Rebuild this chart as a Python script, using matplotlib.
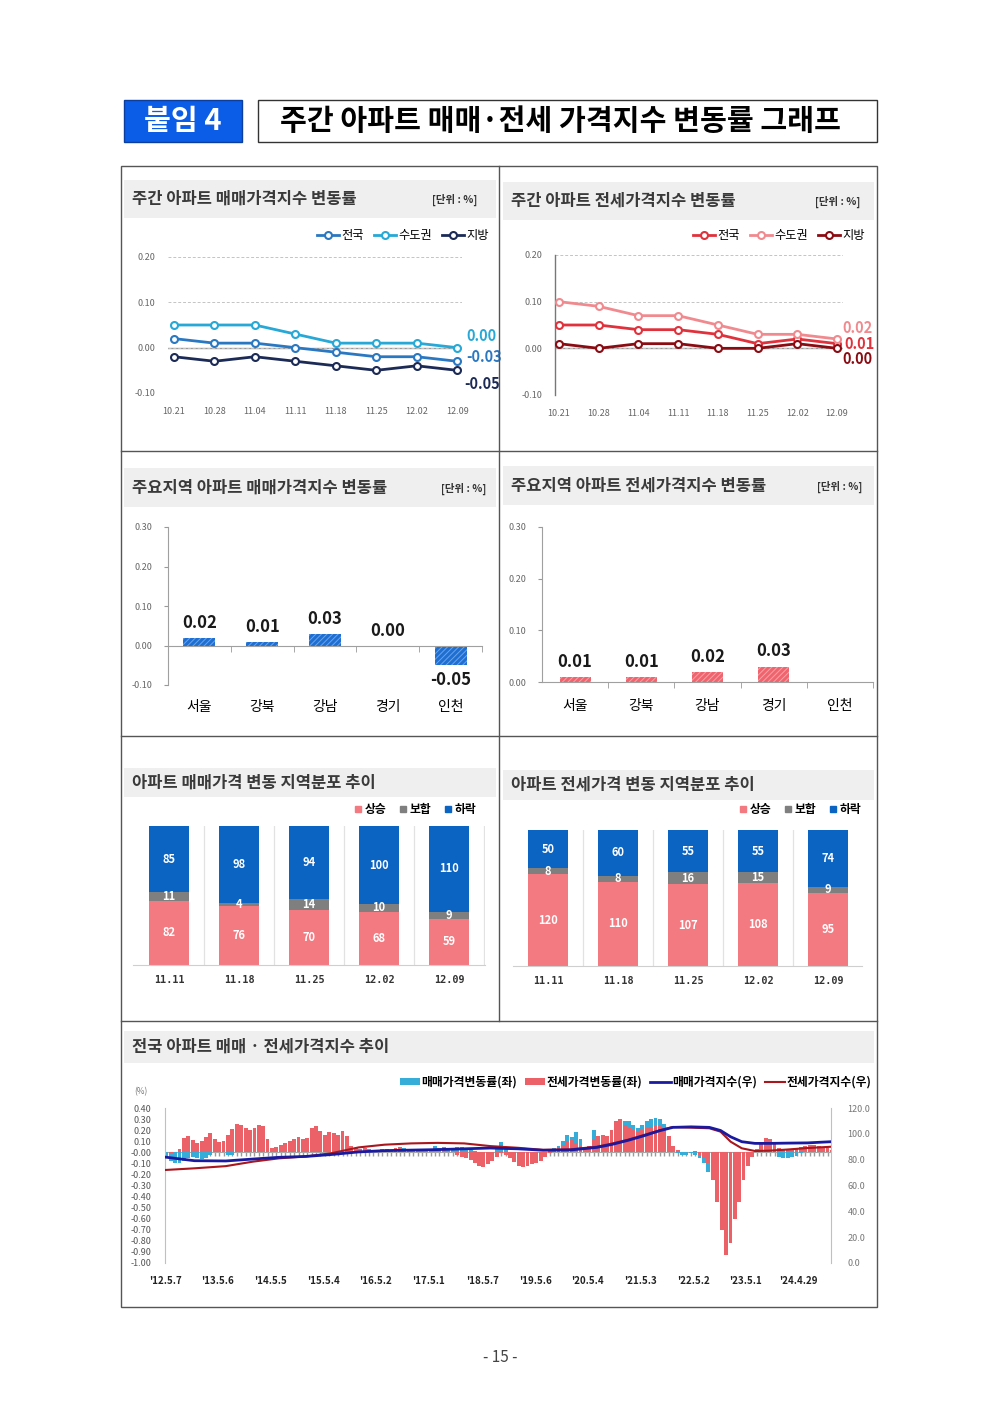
import matplotlib
matplotlib.use('Agg')
import matplotlib.pyplot as plt
import matplotlib.dates as mdates
import numpy as np
import pandas as pd
from matplotlib.patches import Rectangle, Patch
from matplotlib.lines import Line2D
from matplotlib.ticker import FormatStrFormatter, FixedLocator

plt.rcParams['font.family'] = ['Noto Sans CJK KR', 'DejaVu Sans']
plt.rcParams['axes.unicode_minus'] = False
plt.rcParams['hatch.linewidth'] = 0.7
NARROW = ['Liberation Sans Narrow', 'Noto Sans CJK KR', 'DejaVu Sans']

# ---------------- data ----------------
weeks = ['10.21', '10.28', '11.04', '11.11', '11.18', '11.25', '12.02', '12.09']
series_names = ['전국', '수도권', '지방']
sale_nat = [0.02, 0.01, 0.01, 0.00, -0.01, -0.02, -0.02, -0.03]
sale_cap = [0.05, 0.05, 0.05, 0.03, 0.01, 0.01, 0.01, 0.00]
sale_reg = [-0.02, -0.03, -0.02, -0.03, -0.04, -0.05, -0.04, -0.05]
jeonse_nat = [0.05, 0.05, 0.04, 0.04, 0.03, 0.01, 0.02, 0.01]
jeonse_cap = [0.10, 0.09, 0.07, 0.07, 0.05, 0.03, 0.03, 0.02]
jeonse_reg = [0.01, 0.00, 0.01, 0.01, 0.00, 0.00, 0.01, 0.00]

regions = ['서울', '강북', '강남', '경기', '인천']
region_sale = [0.02, 0.01, 0.03, 0.00, -0.05]
region_jeonse = [0.01, 0.01, 0.02, 0.03, np.nan]

dist_weeks = ['11.11', '11.18', '11.25', '12.02', '12.09']
dist_names = ['상승', '보합', '하락']
sale_up = [82, 76, 70, 68, 59]
sale_flat = [11, 4, 14, 10, 9]
sale_down = [85, 98, 94, 100, 110]
jeonse_up = [120, 110, 107, 108, 95]
jeonse_flat = [8, 8, 16, 15, 9]
jeonse_down = [50, 60, 55, 55, 74]

# long-run monthly change rates (%), May 2012 .. Dec 2024
long_start = '2012-05-01'
sale_chg = [
    -0.05, -0.08, -0.10, -0.10, -0.08, -0.05, -0.04, -0.05,
    -0.06, -0.05, -0.02, 0.00, 0.00, 0.00, -0.02, -0.02, 0.02, 0.02, 0.01, 0.01,
    0.03, 0.05, 0.04, 0.02, 0.00, 0.00, 0.02, 0.06, 0.08, 0.06, 0.04, 0.03,
    0.04, 0.08, 0.12, 0.10, 0.10, 0.12, 0.11, 0.10, 0.11, 0.11, 0.06, 0.02,
    0.00, 0.00, 0.00, 0.00, 0.01, 0.03, 0.03, 0.02, 0.03, 0.05, 0.04, 0.02,
    0.01, 0.01, 0.01, 0.01, 0.03, 0.06, 0.04, 0.05, 0.03, 0.03, 0.05, 0.05,
    0.04, 0.02, 0.01, -0.01, -0.02, -0.03, -0.02, 0.03, 0.09, 0.04, -0.02, -0.05,
    -0.07, -0.08, -0.08, -0.07, -0.06, -0.04, -0.01, 0.01, 0.04, 0.06, 0.10, 0.16,
    0.14, 0.18, 0.12, 0.05, 0.04, 0.20, 0.15, 0.12, 0.10, 0.15, 0.22, 0.27,
    0.28, 0.28, 0.25, 0.22, 0.25, 0.28, 0.30, 0.31, 0.30, 0.26, 0.15, 0.05,
    -0.01, -0.02, -0.02, -0.01, -0.02, -0.05, -0.10, -0.18, -0.25, -0.40, -0.55, -0.70,
    -0.55, -0.45, -0.35, -0.22, -0.12, -0.04, 0.02, 0.08, 0.10, 0.07, 0.02, -0.04,
    -0.05, -0.05, -0.04, -0.03, -0.01, 0.01, 0.03, 0.05, 0.04, 0.03, 0.01, 0.00,
]
jeonse_chg = [
    0.00, -0.01, 0.00, 0.03, 0.13, 0.15, 0.11, 0.08,
    0.10, 0.14, 0.17, 0.12, 0.09, 0.10, 0.16, 0.21, 0.26, 0.25, 0.22, 0.20,
    0.22, 0.25, 0.24, 0.12, 0.04, 0.05, 0.07, 0.08, 0.10, 0.12, 0.14, 0.12,
    0.13, 0.22, 0.24, 0.19, 0.16, 0.18, 0.17, 0.16, 0.19, 0.15, 0.06, 0.04,
    0.03, 0.04, 0.03, 0.02, 0.02, 0.01, 0.02, 0.02, 0.04, 0.05, 0.03, 0.02,
    0.01, 0.01, 0.01, 0.01, 0.02, 0.01, 0.01, 0.02, 0.01, 0.00, -0.02, -0.04,
    -0.05, -0.07, -0.10, -0.12, -0.13, -0.11, -0.08, -0.04, -0.01, -0.02, -0.05, -0.09,
    -0.12, -0.13, -0.12, -0.11, -0.10, -0.08, -0.04, -0.01, 0.02, 0.05, 0.07, 0.10,
    0.11, 0.08, 0.06, 0.05, 0.06, 0.12, 0.15, 0.16, 0.15, 0.20, 0.28, 0.30,
    0.25, 0.22, 0.20, 0.18, 0.20, 0.22, 0.23, 0.24, 0.25, 0.22, 0.15, 0.06,
    0.02, 0.00, 0.00, 0.00, 0.01, -0.02, -0.05, -0.10, -0.25, -0.45, -0.70, -0.93,
    -0.82, -0.60, -0.45, -0.25, -0.12, -0.04, 0.03, 0.09, 0.13, 0.12, 0.08, 0.04,
    0.02, 0.02, 0.03, 0.04, 0.05, 0.06, 0.07, 0.07, 0.06, 0.05, 0.04, 0.02,
]
idx_dates = ['2012-05-07', '2012-11-26', '2013-07-01', '2014-01-06', '2014-07-01', '2015-01-05',
             '2015-07-01', '2016-01-04', '2016-07-01', '2017-01-02', '2017-07-03', '2018-01-01',
             '2018-07-02', '2019-01-07', '2019-07-01', '2020-01-06', '2020-07-06', '2020-10-19',
             '2021-02-08', '2021-05-24', '2021-09-13', '2021-12-13', '2022-04-18', '2022-08-22',
             '2022-11-07', '2023-01-16', '2023-04-03', '2023-07-03', '2023-10-16', '2024-02-05',
             '2024-07-01', '2024-12-09']
sale_idx = [82.0, 79.2, 79.0, 80.5, 81.8, 82.5, 84.0, 86.0, 87.0, 87.4, 87.8, 88.4, 89.0, 88.4,
            87.3, 87.5, 89.5, 91.8, 95.0, 98.4, 102.4, 105.0, 105.4, 105.0, 102.6, 97.7, 93.9,
            92.6, 92.6, 92.8, 93.0, 93.9]
jeonse_idx = [72.0, 73.3, 75.0, 78.5, 81.0, 82.5, 85.0, 89.5, 91.6, 92.6, 93.0, 92.6, 90.5, 89.2,
              87.6, 88.0, 90.0, 92.5, 95.5, 99.0, 102.8, 105.3, 104.8, 104.3, 101.7, 93.9, 88.8,
              86.7, 87.0, 87.8, 89.0, 90.0]
long_tick_dates = ['2012-05-07', '2013-05-06', '2014-05-05', '2015-05-04', '2016-05-02', '2017-05-01',
                   '2018-05-07', '2019-05-06', '2020-05-04', '2021-05-03', '2022-05-02', '2023-05-01',
                   '2024-04-29']
long_tick_labels = ["'12.5.7", "'13.5.6", "'14.5.5", "'15.5.4", "'16.5.2", "'17.5.1", "'18.5.7",
                    "'19.5.6", "'20.5.4", "'21.5.3", "'22.5.2", "'23.5.1", "'24.4.29"]
long_xlim = ['2012-05-07', '2024-12-09']
long_names = ['매매가격변동률(좌)', '전세가격변동률(좌)', '매매가격지수(우)', '전세가격지수(우)']

# ---------------- figure ----------------
W, H = 1000, 1413
fig = plt.figure(figsize=(10, 14.13), dpi=100)
fig.patch.set_facecolor('white')


def fx(x):
    return x / W


def fy(y):
    return 1 - y / H


def rect(x0, y0, x1, y1):
    return [x0 / W, 1 - y1 / H, (x1 - x0) / W, (y1 - y0) / H]


def fig_rect(x0, y0, x1, y1, fc, ec='none', lw=0):
    fig.patches.append(Rectangle((fx(x0), fy(y1)), (x1 - x0) / W, (y1 - y0) / H,
                                 transform=fig.transFigure, facecolor=fc, edgecolor=ec,
                                 linewidth=lw, zorder=0))


def fig_line(x0, y0, x1, y1, color='#555555', lw=1.0):
    fig.add_artist(Line2D([fx(x0), fx(x1)], [fy(y0), fy(y1)], transform=fig.transFigure,
                          color=color, lw=lw))


# header
fig_rect(124, 100, 242, 142, '#0b5ce6', '#0a3fa0', 1)
fig.text(fx(183), fy(121), '붙임 4', ha='center', va='center', fontsize=21, weight='bold', color='white')
fig_rect(258, 100, 877, 142, 'white', '#333333', 1)
fig.text(fx(560), fy(121), '주간 아파트 매매·전세 가격지수 변동률 그래프', ha='center', va='center',
         fontsize=21, weight='bold', color='black')

# frame
fig_rect(121, 166, 877, 1307, 'none', '#555555', 1)
fig_line(499, 166, 499, 1021)
for yy in (451, 736, 1021):
    fig_line(121, yy, 877, yy)


def band(x0, y0, x1, y1, title, unit_x=None):
    fig_rect(x0, y0, x1, y1, '#efefef')
    fig.text(fx(x0 + 8), fy((y0 + y1) / 2), title, ha='left', va='center', fontsize=11.9,
             weight='bold', color='#3a3a3a')
    if unit_x is not None:
        fig.text(fx(unit_x), fy((y0 + y1) / 2 + 1), '[단위 : %]', ha='center', va='center',
                 fontsize=7.5, weight='bold', color='#333333')


band(124, 180, 496, 218, '주간 아파트 매매가격지수 변동률', 455)
band(503, 182, 874, 220, '주간 아파트 전세가격지수 변동률', 838)
band(124, 468, 496, 507, '주요지역 아파트 매매가격지수 변동률', 464)
band(503, 466, 874, 505, '주요지역 아파트 전세가격지수 변동률', 840)
band(124, 768, 496, 797, '아파트 매매가격 변동 지역분포 추이')
band(503, 770, 874, 800, '아파트 전세가격 변동 지역분포 추이')
band(124, 1031, 874, 1063, '전국 아파트 매매 · 전세가격지수 추이')


# ---------------- line panels ----------------
def line_panel(r, xlim, vals, colors, offsets, spine, leg_xy, ylab_pad):
    ax = fig.add_axes(r)
    x = np.arange(len(weeks))
    ax.set_xlim(*xlim)
    ax.set_ylim(-0.1, 0.2)
    ax.set_yticks([-0.1, 0.0, 0.1, 0.2])
    ax.yaxis.set_major_formatter(FormatStrFormatter('%.2f'))
    ax.set_xticks(x)
    ax.set_xticklabels(weeks)
    ax.tick_params(axis='both', length=0, labelsize=6.5, labelcolor='#666666')
    ax.tick_params(axis='y', pad=ylab_pad)
    ax.tick_params(axis='x', pad=10)
    ax.grid(axis='y', color='#c4c4c4', lw=0.7, ls=(0, (3, 2)))
    ax.axhline(0, color='#9a9a9a', lw=1.0, zorder=1)
    for s in ('top', 'right', 'bottom'):
        ax.spines[s].set_visible(False)
    if spine:
        ax.spines['left'].set_color('#777777')
        ax.spines['left'].set_linewidth(1.0)
    else:
        ax.spines['left'].set_visible(False)
    ax.set_facecolor('none')
    handles = []
    for v, c, name, (dx, dy) in zip(vals, colors, series_names, offsets):
        h, = ax.plot(x, v, color=c, lw=2, marker='o', ms=5, mfc='white', mec=c, mew=1.5,
                     clip_on=False, zorder=3, label=name)
        handles.append(h)
        ax.annotate(f'{v[-1]:.2f}', xy=(x[-1], v[-1]), xytext=(dx, dy), textcoords='offset pixels',
                    ha='left', va='center', color=c, fontsize=10.5, weight='bold', family=NARROW)
    fig.legend(handles=handles, loc='center right', bbox_to_anchor=(fx(leg_xy[0]), fy(leg_xy[1])),
               ncol=3, frameon=False, fontsize=8.8, handlelength=1.8, handletextpad=0.2,
               columnspacing=0.8, borderaxespad=0, borderpad=0)
    return ax


line_panel(rect(168, 257, 462, 393), (-0.148, 7.12), [sale_nat, sale_cap, sale_reg],
           ['#2b78c2', '#27a8d6', '#1c2a56'], [(9, 4), (9, 12), (7, -14)], False, (489, 236), 9)
line_panel(rect(555, 255, 843, 395), (-0.1, 7.15), [jeonse_nat, jeonse_cap, jeonse_reg],
           ['#e0323c', '#f08a8f', '#8a0c12'], [(7, 0), (5, 11), (5, -11)], True, (865, 236), 9)


# ---------------- region bar panels ----------------
def region_panel(r, ylim, ticks, vals, fc, hc, width, cat_pad, ylab_pad):
    ax = fig.add_axes(r)
    x = np.arange(len(regions))
    ax.set_xlim(-0.5, len(regions) - 0.5)
    ax.set_ylim(*ylim)
    ax.bar(x, vals, width=width, color=fc, edgecolor=hc, hatch='//////', linewidth=0, zorder=2)
    ax.set_yticks(ticks)
    ax.yaxis.set_major_formatter(FormatStrFormatter('%.2f'))
    ax.tick_params(axis='y', length=3, color='#999999', labelsize=6.5, labelcolor='#666666', pad=ylab_pad)
    ax.set_xticks(x)
    ax.set_xticklabels(regions, fontsize=9, weight='bold', color='#222222')
    ax.xaxis.set_minor_locator(FixedLocator(x + 0.5))
    ax.tick_params(axis='x', which='major', length=0, pad=cat_pad)
    ax.tick_params(axis='x', which='minor', length=4, color='#999999', direction='out')
    ax.spines['bottom'].set_position(('data', 0))
    ax.spines['bottom'].set_color('#a0a0a0')
    ax.spines['left'].set_color('#a0a0a0')
    ax.spines['top'].set_visible(False)
    ax.spines['right'].set_visible(False)
    ax.set_facecolor('none')
    for xi, v in zip(x, vals):
        if np.isnan(v):
            continue
        dy = -15 if v < 0 else 15
        ax.annotate(f'{v:.2f}', xy=(xi, v), xytext=(0, dy), textcoords='offset pixels',
                    ha='center', va='center', fontsize=12, weight='bold', color='#1a1a1a',
                    family=NARROW)
    return ax


region_panel(rect(168, 527, 482, 685), (-0.1, 0.3), [-0.1, 0.0, 0.1, 0.2, 0.3], region_sale,
             '#1f6fd2', '#6aa5ea', 0.51, 39, 8)
region_panel(rect(542, 527, 873, 682), (0.0, 0.3), [0.0, 0.1, 0.2, 0.3], region_jeonse,
             '#f0646e', '#f7a3a8', 0.47, 12, 8)


# ---------------- distribution stacked bars ----------------
dist_colors = ['#f47a82', '#7f7f7f', '#0b63c2']


def dist_panel(r, xlim, up, flat, down, leg_xy, width):
    ax = fig.add_axes(r)
    x = np.arange(len(dist_weeks))
    ax.set_xlim(*xlim)
    ax.set_ylim(0, np.max(np.array(up) + np.array(flat) + np.array(down)))
    bottoms = np.zeros(len(x))
    for vals, c in zip([up, flat, down], dist_colors):
        bc = ax.bar(x, vals, bottom=bottoms, width=width, color=c, linewidth=0, zorder=2)
        ax.bar_label(bc, labels=[str(v) for v in vals], label_type='center', color='white',
                     fontsize=8, weight='bold')
        bottoms = bottoms + np.array(vals)
    ax.set_xticks(x)
    ax.set_xticklabels(dist_weeks, fontsize=7.3, weight='bold', family=['DejaVu Sans Mono'],
                       color='#333333')
    ax.xaxis.set_minor_locator(FixedLocator(x + 0.5))
    ax.grid(axis='x', which='minor', color='#e2e2e2', lw=0.9)
    ax.tick_params(axis='x', which='both', length=0, pad=7)
    ax.set_yticks([])
    for s in ('top', 'right', 'left'):
        ax.spines[s].set_visible(False)
    ax.spines['bottom'].set_color('#cfcfcf')
    ax.set_facecolor('none')
    handles = [Line2D([], [], ls='none', marker='s', ms=5, mfc=c, mec=c, label=n)
               for c, n in zip(dist_colors, dist_names)]
    fig.legend(handles=handles, loc='center right', bbox_to_anchor=(fx(leg_xy[0]), fy(leg_xy[1])),
               ncol=3, frameon=False, prop={'size': 8.5, 'weight': 'bold'}, handlelength=0.6,
               handletextpad=0.25, columnspacing=1.1, borderaxespad=0, borderpad=0)


dist_panel(rect(133, 826, 485, 965), (-0.514, 4.514), sale_up, sale_flat, sale_down, (476, 810), 0.57)
dist_panel(rect(513, 830, 862, 966), (-0.5, 4.486), jeonse_up, jeonse_flat, jeonse_down, (861, 810), 0.56)

# ---------------- long-run chart ----------------
ax = fig.add_axes(rect(165, 1108, 831, 1263))
mx = mdates.date2num(pd.date_range(long_start, periods=len(jeonse_chg), freq='MS') + pd.Timedelta(days=14))
ax.set_xlim(mdates.date2num(pd.to_datetime(long_xlim)))
ax.set_ylim(-1.0, 0.4)
ax.vlines(mx, -0.035, 0, color='#9a9a9a', lw=1.0, zorder=1)
ax.bar(mx, sale_chg, width=27, color='#36acd8', linewidth=0, zorder=2)
ax.bar(mx, jeonse_chg, width=27, color='#ec6168', linewidth=0, zorder=3)
ax.axhline(0, color='#a8a8a8', lw=0.8, zorder=1)
ax.set_yticks(np.round(np.arange(-1.0, 0.41, 0.1), 2))
ax.yaxis.set_major_formatter(FormatStrFormatter('%.2f'))
ax.tick_params(axis='y', length=0, labelsize=6.5, labelcolor='#555555', pad=10)
ax.set_xticks(mdates.date2num(pd.to_datetime(long_tick_dates)))
ax.set_xticklabels(long_tick_labels, fontsize=7, weight='bold', color='#222222')
ax.tick_params(axis='x', length=0, pad=9)
for s in ('top', 'bottom'):
    ax.spines[s].set_visible(False)
ax.spines['left'].set_color('#c0c0c0')
ax.spines['right'].set_visible(False)
ax.set_facecolor('none')

ax2 = ax.twinx()
ax2.set_ylim(0, 120)
ixd = mdates.date2num(pd.to_datetime(idx_dates))
ax2.plot(ixd, jeonse_idx, color='#a8161e', lw=1.5, zorder=4)
ax2.plot(ixd, sale_idx, color='#1a1aa0', lw=2.0, zorder=5)
ax2.set_yticks(np.arange(0, 121, 20))
ax2.yaxis.set_major_formatter(FormatStrFormatter('%.1f'))
ax2.tick_params(axis='y', length=0, labelsize=6.5, labelcolor='#777777', pad=12)
for s in ('top', 'bottom', 'left'):
    ax2.spines[s].set_visible(False)
ax2.spines['right'].set_color('#c0c0c0')

fig.text(fx(141), fy(1092), '(%)', ha='center', va='center', fontsize=6, color='#777777')
long_handles = [Patch(facecolor='#36acd8', label=long_names[0]),
                Patch(facecolor='#ec6168', label=long_names[1]),
                Line2D([], [], color='#1a1aa0', lw=2, label=long_names[2]),
                Line2D([], [], color='#a8161e', lw=1.5, label=long_names[3])]
fig.legend(handles=long_handles, loc='center right', bbox_to_anchor=(fx(871), fy(1082)), ncol=4,
           frameon=False, prop={'size': 8.5, 'weight': 'bold'}, handlelength=1.7, handleheight=0.5,
           handletextpad=0.1, columnspacing=0.7, borderaxespad=0, borderpad=0)

# footer
fig.text(fx(500), fy(1358), '- 15 -', ha='center', va='center', fontsize=11, color='#444444')

fig.savefig('out.png', dpi=100)
